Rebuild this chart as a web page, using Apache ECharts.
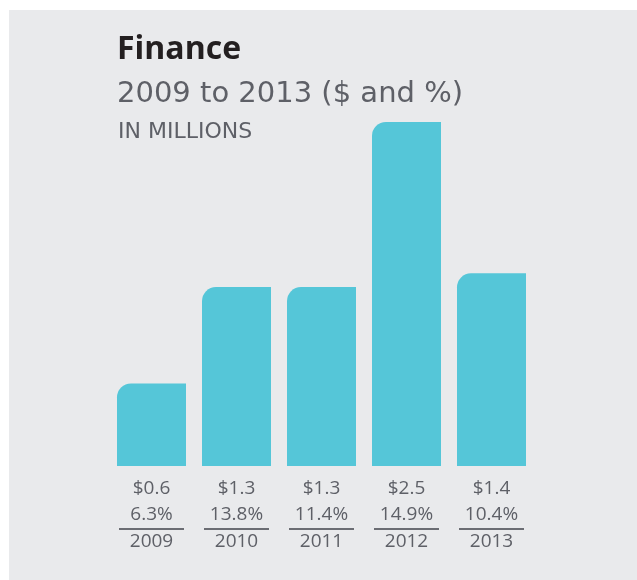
<!DOCTYPE html>
<html>
<head>
<meta charset="utf-8">
<script src="https://cdn.jsdelivr.net/npm/echarts@6/dist/echarts.min.js"></script>
<style>
  html, body { margin: 0; padding: 0; background: #ffffff; }
  #chart { width: 637px; height: 580px; }
</style>
</head>
<body>
<div id="chart"></div>
<script>
const years = ['2009', '2010', '2011', '2012', '2013'];
const amounts = [0.6, 1.3, 1.3, 2.5, 1.4];
const amountLabels = ['$0.6', '$1.3', '$1.3', '$2.5', '$1.4'];
const percentLabels = ['6.3%', '13.8%', '11.4%', '14.9%', '10.4%'];

const titleText = 'Finance';
const subtitleText = '2009 to 2013 ($ and %)';
const unitText = 'IN MILLIONS';

const chart = echarts.init(document.getElementById('chart'));
const grey = '#5e6067';

chart.setOption({
  backgroundColor: '#ffffff',
  animation: false,
  graphic: [
    { type: 'rect', z: -10, shape: { x: 9, y: 10, width: 628, height: 570 }, style: { fill: '#e9eaec' } },
    { type: 'text', style: { text: titleText, x: 117, y: 50, textVerticalAlign: 'middle', font: 'bold 32px "Open Sans"', fill: '#231f20' } },
    { type: 'text', style: { text: subtitleText, x: 117, y: 94, textVerticalAlign: 'middle', font: '29px "DejaVu Sans"', fill: grey } },
    { type: 'text', style: { text: unitText, x: 118, y: 132, textVerticalAlign: 'middle', font: '22px "DejaVu Sans"', fill: grey } }
  ],
  grid: { left: 109, width: 425, top: 122, height: 344 },
  xAxis: {
    type: 'category',
    data: years,
    axisLine: { show: false },
    axisTick: { show: false },
    axisLabel: {
      margin: 10,
      interval: 0,
      formatter: function (value, idx) {
        return '{v|' + amountLabels[idx] + '}\n{p|' + percentLabels[idx] + '}\n{l| }\n{y|' + value + '}';
      },
      rich: {
        v: { fontFamily: 'Open Sans', fontSize: 19, color: grey, lineHeight: 26, align: 'center' },
        p: { fontFamily: 'Open Sans', fontSize: 19, color: grey, lineHeight: 26, align: 'center' },
        l: { fontSize: 1, width: 65, height: 2, lineHeight: 2, backgroundColor: '#6b6d73', align: 'center' },
        y: { fontFamily: 'Open Sans', fontSize: 19, color: grey, lineHeight: 24, align: 'center' }
      }
    }
  },
  yAxis: {
    type: 'value',
    min: 0,
    max: 2.5,
    show: false,
    splitLine: { show: false }
  },
  series: [{
    type: 'bar',
    data: amounts,
    barWidth: 69,
    itemStyle: { color: '#55c6d8', borderRadius: [14, 0, 0, 0] }
  }]
});
</script>
</body>
</html>
